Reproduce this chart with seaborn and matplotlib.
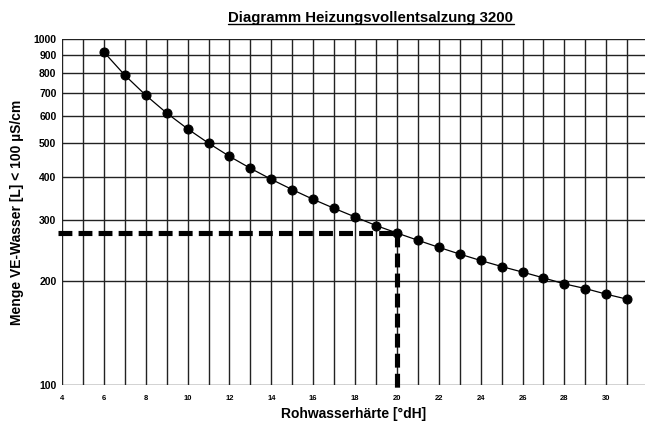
import numpy as np
import pandas as pd
import seaborn as sns
import matplotlib.pyplot as plt
from matplotlib.lines import Line2D

# Rohwasserhaerte [°dH] vs. Menge VE-Wasser [L]
haerte = [6, 7, 8, 9, 10, 11, 12, 13, 14, 15, 16, 17, 18, 19, 20,
          21, 22, 23, 24, 25, 26, 27, 28, 29, 30, 31]
menge = [917, 786, 688, 611, 550, 500, 458, 423, 393, 367, 344, 324, 306, 289, 275,
         262, 250, 239, 229, 220, 212, 204, 196, 190, 183, 177]

# marked reading
ref_x = 20
ref_y = 275

y_ticks = [100, 200, 300, 400, 500, 600, 700, 800, 900, 1000]
x_ticks = list(range(4, 31, 2))

df = pd.DataFrame({"haerte": haerte, "menge": menge})

sns.set_style("white")
plt.rcParams["font.family"] = ["Liberation Sans", "DejaVu Sans"]
plt.rcParams["text.color"] = "black"
plt.rcParams["axes.labelcolor"] = "black"
plt.rcParams["xtick.color"] = "black"
plt.rcParams["ytick.color"] = "black"

fig = plt.figure(figsize=(6.45, 4.21), dpi=100)
ax = fig.add_axes([62 / 645, 1 - 385 / 421, 1 - 62 / 645, (385 - 39) / 421])

ax.set_yscale("log")
ax.set_ylim(100, 1000)
ax.set_xlim(4, 31.85)

# grid
for gx in range(4, 32):
    ax.axvline(gx, color="#222222", lw=1.0, zorder=1)
for gy in y_ticks:
    ax.axhline(gy, color="#222222", lw=1.0, zorder=1)

sns.lineplot(data=df, x="haerte", y="menge", ax=ax, color="black", lw=0.9,
             marker="o", markersize=6.5, markeredgecolor="black", zorder=3)

# dashed reading lines
ax.plot([3.8, ref_x], [ref_y, ref_y], color="black", lw=3.7, ls=(0, (2.7, 1.2)),
        clip_on=False, zorder=2, dash_capstyle="butt")
ax.plot([ref_x, ref_x], [ref_y, 97], color="black", lw=3.7, ls=(0, (2.7, 1.2)),
        clip_on=False, zorder=2, dash_capstyle="butt")

ax.set_yticks(y_ticks)
ax.set_yticklabels([str(v) for v in y_ticks], fontsize=7.5, fontweight="bold")
ax.yaxis.set_minor_locator(plt.NullLocator())
ax.set_xticks(x_ticks)
ax.set_xticklabels([str(v) for v in x_ticks], fontsize=5.5, fontweight="bold")
ax.tick_params(axis="both", length=2, width=0.8, color="black")
ax.tick_params(axis="y", pad=2)
ax.tick_params(axis="x", pad=5)

for s in ax.spines.values():
    s.set_visible(False)

ax.set_xlabel("Rohwasserhärte [°dH]", fontsize=10, fontweight="bold", labelpad=4)
ax.set_ylabel("Menge VE-Wasser [L] < 100 µS/cm", fontsize=10, fontweight="bold", labelpad=7)

title = fig.text(371 / 645, 1 - 18 / 421, "Diagramm Heizungsvollentsalzung 3200",
                 ha="center", va="center", fontsize=10.8, fontweight="bold")

# underline the title
fig.canvas.draw()
bb = title.get_window_extent().transformed(fig.transFigure.inverted())
fig.add_artist(Line2D([bb.x0, bb.x1], [bb.y0 + 0.002, bb.y0 + 0.002],
                      transform=fig.transFigure, color="black", lw=1.0))

fig.savefig("out.png", dpi=100)
